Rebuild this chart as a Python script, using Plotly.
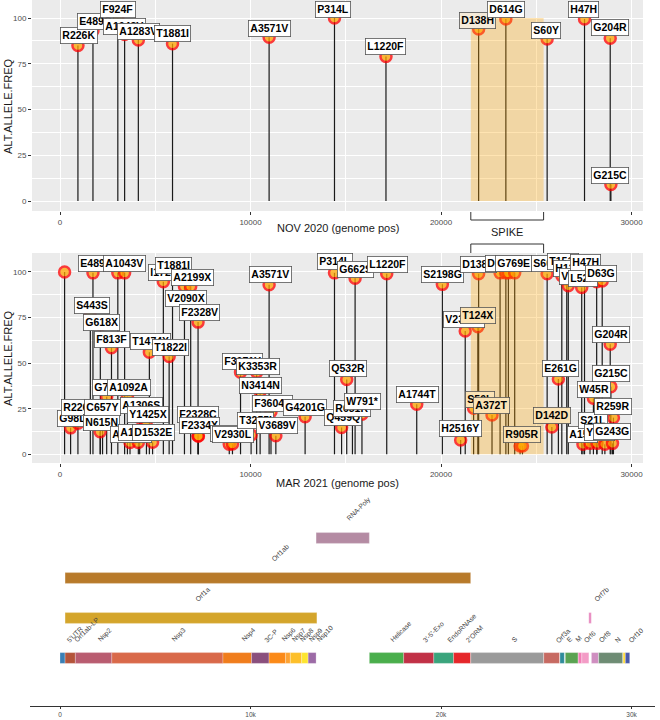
import plotly.graph_objects as go

# ---------------- data ----------------
spike_start, spike_end = 21563, 25384

nov_mut = ["R226K", "E489G", "F924F", "A1043V", "A1283V", "T1881I", "A3571V", "P314L",
           "L1220F", "D138H", "D614G", "S60Y", "H47H", "G204R", "G215C"]
nov_pos = [941, 1730, 3035, 3392, 4112, 5906, 10976, 14408, 17110, 21974, 23403, 25570,
           27532, 28881, 28916]
nov_freq = [85, 93, 100, 91, 88, 86, 89.5, 100, 79, 94, 99.5, 88.5, 99.5, 89, 9]
# label placement (repel result) in data units
nov_lab_x = [997, 1865, 3060, 3385, 4110, 5915, 10990, 14350, 17110, 21940, 23390, 25525,
             27490, 28870, 28870]
nov_lab_y = [90.3, 98, 104.4, 95.6, 92.5, 91.3, 94, 104.4, 84.3, 98.9, 104.4, 93, 104.4,
             94.7, 14.2]

mar_mut = ["", "G98L", "R226K", "S443S", "E489G", "N615N", "G618X", "C657Y", "G727G",
           "F813F", "F924F", "A1043V", "A1092A", "A1137V", "A1283V", "A1306S", "Y1425X",
           "T1474X", "D1532E", "I1720X", "T1822I", "T1881I", "V2090X", "A2199X", "F2328V",
           "F2328C", "F2334X", "P2874S", "V2930L", "F3071Y", "T3255I", "K3353R", "N3414N",
           "A3571V", "F3604F", "V3689V", "G4201G", "P314L", "Q459Q", "Q532R", "R651R",
           "G662S", "W791*", "L1220F", "A1744T", "S2198G", "H2516Y", "V2375F", "S50L",
           "T124X", "D138H", "A372T", "", "D614G", "", "G769E", "", "R905R", "S60Y",
           "D142D", "E261G", "T151I", "H125Y", "V82A", "L52F", "A15S", "H47H", "S21L",
           "W45R", "", "Y73C", "D63G", "", "G204R", "G215C", "G243G", "R259R"]
mar_pos = [241, 557, 941, 1592, 1730, 2108, 2117, 2234, 2450, 2702, 3035, 3392, 3539, 3675,
           4112, 4181, 4538, 4691, 4859, 5425, 5729, 5906, 6533, 6860, 7247, 7248, 7266,
           8885, 9053, 9476, 10030, 10322, 10505, 10976, 11075, 11330, 12866, 14408, 14780,
           15050, 15350, 15490, 15850, 17150, 18725, 20070, 21030, 21270, 21710, 21932,
           21974, 22676, 23100, 23403, 23535, 23867, 24150, 24275, 25570, 25816, 26160,
           26340, 26600, 26680, 27385, 27450, 27532, 27820, 28000, 28170, 28190, 28460,
           28600, 28881, 28916, 29000, 29050]
mar_freq = [100, 14.5, 17, 76, 99.5, 12.4, 71, 22, 31.6, 58.5, 99.5, 99.5, 31.6, 6.5, 6.5,
            20, 16, 56, 6.6, 94.7, 53.6, 99.5, 92, 92, 72.5, 10, 10, 5.5, 5.6, 45, 10.6, 45,
            34.4, 93, 23.4, 10.2, 20.6, 99.5, 14.7, 41, 22, 96.5, 22, 99, 27.4, 93.2, 7.9,
            67.6, 25.2, 70, 99, 21.6, 99.5, 99.5, 99.5, 99.5, 4.6, 4.6, 99, 15, 41.3, 98,
            96, 92.5, 91.5, 5.5, 99, 6, 30.7, 94.6, 6, 95, 5.5, 60.3, 37, 6, 20.1]
# label placement (repel result) in data units; None = label dropped
mar_lab_x = [None, 680, 1050, 1680, 1890, 2152, 2188, 2240, 2670, 2713, None, 3376, 3622,
             3730, 4150, 4287, 4619, 4760, 4898, 5620, 5774, 5950, 6597, 6965, 7296, 7260,
             7296, 8950, 9100, 9570, 10236, 10376, 10550, 11023, 11163, 11373, 12860, 14435,
             14870, 15133, 15345, 15485, 15870, 17165, 18756, 20067, 21030, 21206, 22050,
             21958, 21958, 22660, None, 23300, None, 23830, None, 24266, 25510, 25810, 26280,
             26400, 26870, 27030, 27450, 27450, 27557, 27995, 28013, None, 28300, 28414,
             None, 28920, 28905, 28990, 29045]
mar_lab_y = [None, 19.7, 25.6, 81.5, 104.8, 17.6, 72.2, 25.6, 36.5, 63.2, None, 104.8, 36.5,
             11, 12, 27, 21.9, 61.8, 12, 99.6, 58.5, 103.8, 85.2, 97.1, 77.9, 21.6, 16, 11.5,
             10.6, 50.8, 18.3, 48.4, 38, 98.4, 28, 16, 25.8, 106, 20.1, 47.2, 25.2, 101.5,
             29.2, 104.2, 32.9, 98.7, 13.9, 73.7, 30.3, 76, 104.2, 27, None, 104.8, None,
             104.8, None, 11, 104.8, 21.2, 46.8, 105.5, 101.7, 97.4, 96.5, 11, 105.3, 18.8,
             35.8, None, 12, 99.3, None, 65.8, 44.4, 12.4, 26.1]

# genome annotation
seg_names = ["5'UTR", "Orf1ab-LP", "Nsp2", "Nsp3", "Nsp4", "3C-P", "Nsp6", "Nsp7", "Nsp8",
             "Nsp9", "Nsp10", "Helicase", "3'-5'-Exo", "EndoRNAse", "2'ORM", "S", "Orf3a",
             "E", "M", "Orf6", "Orf7a", "Orf8", "N", "Orf10", "3'UTR"]
seg_start = [1, 266, 806, 2720, 8555, 10055, 10973, 11843, 12092, 12686, 13025, 16237,
             18040, 19621, 20659, 21563, 25393, 26245, 26523, 27202, 27394, 27894, 28274,
             29558, 29675]
seg_end = [265, 805, 2719, 8554, 10054, 10972, 11842, 12091, 12685, 13024, 13441, 18039,
           19620, 20658, 21552, 25384, 26220, 26472, 27191, 27387, 27759, 28259, 29533,
           29674, 29903]
seg_labelled = [True] * 20 + [False, True, True, True, False]

orf_names = ["Orf1a", "Orf1ab", "RNA-Poly", "Orf7b"]
orf_start = [266, 266, 13442, 27756]
orf_end = [13483, 21555, 16236, 27887]
orf_track = [1, 2, 3, 1]

# ---------------- styles ----------------
seg_colors = ["#3a7fb5", "#b4543a", "#b95c70", "#d9694a", "#f07d1c", "#8a4f7d", "#fb8a18",
              "#fda232", "#fdbf2a", "#fde530", "#9c6ba6", "#4aae4c", "#c13146", "#3aa47c",
              "#e5272a", "#9a9a9a", "#c76a62", "#2f8c9a", "#5aa352", "#f27db6", "#f39cc6",
              "#cf8ec0", "#6e8c74", "#ffd92f", "#4a5aaa"]
orf_colors = ["#d4a52b", "#b87a2a", "#b48ba3", "#e88ac0"]

W, H = 660, 720
FONT = "Liberation Sans"
px_l, px_r = 32, 643
top_y = (0, 211)
mid_y = (253, 463)
top_range_y = [-5.46, 109.84]
mid_range_y = [-4.77, 110.4]
x_range = [(px_l - 60) * 52.49, (px_r - 60) * 52.49]


def pdom(y0, y1):
    return [1 - y1 / H, 1 - y0 / H]


fig = go.Figure()


def lollipop(pos, freq, xa, ya):
    lx, ly = [], []
    for p, f in zip(pos, freq):
        lx += [p, p, None]
        ly += [0, f, None]
    fig.add_trace(go.Scatter(x=lx, y=ly, mode="lines", xaxis=xa, yaxis=ya,
                             line=dict(color="#1a1a1a", width=1.2), hoverinfo="skip",
                             showlegend=False))
    fig.add_trace(go.Scatter(x=pos, y=freq, mode="markers", xaxis=xa, yaxis=ya,
                             marker=dict(size=11, color="orange", opacity=0.75,
                                         line=dict(color="red", width=2.5)),
                             showlegend=False))


lollipop(nov_pos, nov_freq, "x", "y")
lollipop(mar_pos, mar_freq, "x2", "y2")

# genome strip and ORF bars
for n, s, e, c in zip(seg_names, seg_start, seg_end, seg_colors):
    fig.add_trace(go.Bar(x=[e - s + 1], base=[s], y=[0], orientation="h", width=0.27,
                         marker=dict(color=c, line=dict(color="rgba(255,255,255,0.5)", width=0.5)),
                         xaxis="x3", yaxis="y3", showlegend=False, name=n))
for n, s, e, t, c in zip(orf_names, orf_start, orf_end, orf_track, orf_colors):
    fig.add_trace(go.Bar(x=[e - s + 1], base=[s], y=[t], orientation="h", width=0.27,
                         marker=dict(color=c, line=dict(color="rgba(255,255,255,0.5)", width=0.5)),
                         xaxis="x3", yaxis="y3", showlegend=False, name=n))

shapes = []
for xa, ya, yr in (("x", "y", top_range_y), ("x2", "y2", mid_range_y)):
    shapes.append(dict(type="rect", xref=xa, yref=ya, x0=x_range[0], x1=x_range[1],
                       y0=yr[0], y1=yr[1], fillcolor="#EBEBEB", line=dict(width=0),
                       layer="below"))
    shapes.append(dict(type="rect", xref=xa, yref=ya, x0=spike_start, x1=spike_end,
                       y0=0, y1=100, fillcolor="rgba(255,165,0,0.3)", line=dict(width=0),
                       layer="above"))
# spike brackets
bk = dict(color="#333333", width=1)
y_a, y_b = 1 - 212 / H, 1 - 220 / H
y_c, y_d = 1 - 244 / H, 1 - 253 / H
shapes += [
    dict(type="line", xref="x", yref="paper", x0=spike_start, x1=spike_start, y0=y_a, y1=y_b, line=bk),
    dict(type="line", xref="x", yref="paper", x0=spike_end, x1=spike_end, y0=y_a, y1=y_b, line=bk),
    dict(type="line", xref="x", yref="paper", x0=spike_start, x1=spike_end, y0=y_b, y1=y_b, line=bk),
    dict(type="line", xref="x", yref="paper", x0=spike_start, x1=spike_end, y0=y_c, y1=y_c, line=bk),
    dict(type="line", xref="x", yref="paper", x0=spike_start, x1=spike_start, y0=y_c, y1=y_d, line=bk),
    dict(type="line", xref="x", yref="paper", x0=spike_end, x1=spike_end, y0=y_c, y1=y_d, line=bk),
]

ann = []
lab_font = dict(family=FONT, size=10.5, color="black")
tint_mid = {"T124X", "S50L", "A372T", "R905R", "D142D"}
for n, lx, ly in zip(nov_mut, nov_lab_x, nov_lab_y):
    ann.append(dict(x=lx, y=ly, xref="x", yref="y", text="<b>%s</b>" % n, showarrow=False,
                    font=lab_font, bgcolor="#F5EBDA" if n == "D138H" else "white",
                    bordercolor="#555", borderwidth=0.8, borderpad=1.5))
for n, lx, ly in zip(mar_mut, mar_lab_x, mar_lab_y):
    if lx is None or not n:
        continue
    ann.append(dict(x=lx, y=ly, xref="x2", yref="y2", text="<b>%s</b>" % n, showarrow=False,
                    font=lab_font, bgcolor="#FBE3B5" if n in tint_mid else "white",
                    bordercolor="#555", borderwidth=0.8, borderpad=1.5))

ttl = dict(family=FONT, size=11, color="#1a1a1a")
mid = dict(xanchor="center", yanchor="middle", showarrow=False, font=ttl)
ann += [
    dict(x=(px_l + px_r) / 2 / W, y=1 - 228 / H, xref="paper", yref="paper",
         text="NOV 2020 (genome pos)", **mid),
    dict(x=(px_l + px_r) / 2 / W, y=1 - 483 / H, xref="paper", yref="paper",
         text="MAR 2021 (genome pos)", **mid),
    dict(x=8 / W, y=1 - 106 / H, xref="paper", yref="paper", text="ALT.ALLELE.FREQ",
         textangle=-90, **mid),
    dict(x=8 / W, y=1 - 358 / H, xref="paper", yref="paper", text="ALT.ALLELE.FREQ",
         textangle=-90, **mid),
    dict(x=(spike_start + spike_end) / 2, y=1 - 232 / H, xref="x", yref="paper",
         text="SPIKE", **mid),
]
gfont = dict(family=FONT, size=6.8, color="#444444")
for n, s, e, show in zip(seg_names, seg_start, seg_end, seg_labelled):
    if show:
        ann.append(dict(x=(s + e) / 2, y=0.29, xref="x3", yref="y3", text=n, textangle=-45,
                        xanchor="left", yanchor="bottom", showarrow=False, font=gfont))
for n, s, e, t in zip(orf_names, orf_start, orf_end, orf_track):
    ann.append(dict(x=(s + e) / 2, y=t + 0.31, xref="x3", yref="y3", text=n, textangle=-45,
                    xanchor="left", yanchor="bottom", showarrow=False, font=gfont))

tickfont = dict(family=FONT, size=8, color="#4D4D4D")
xcommon = dict(range=x_range, domain=[px_l / W, px_r / W], tick0=0, dtick=10000,
               tickformat="d", showgrid=True, gridcolor="white", gridwidth=1.1,
               minor=dict(dtick=5000, tick0=0, showgrid=True, gridcolor="white", gridwidth=0.5),
               ticks="outside", ticklen=3, tickcolor="#333333", tickfont=tickfont,
               zeroline=False, showline=False, automargin=False, fixedrange=True)
ycommon = dict(tick0=0, dtick=25, showgrid=True, gridcolor="white", gridwidth=1.1,
               minor=dict(dtick=12.5, tick0=0, showgrid=True, gridcolor="white", gridwidth=0.5),
               ticks="outside", ticklen=3, tickcolor="#333333", tickfont=tickfont,
               zeroline=False, showline=False, automargin=False, fixedrange=True)

b_l, b_r = 30, 655
axis_py = 706
row_py0, row_px = 658, 40
fig.update_layout(
    width=W, height=H, margin=dict(l=0, r=0, t=0, b=0),
    paper_bgcolor="white", plot_bgcolor="white", barmode="overlay",
    showlegend=False, template="none",
    xaxis=dict(**xcommon, anchor="y"),
    yaxis=dict(**ycommon, anchor="x", range=top_range_y, domain=pdom(*top_y)),
    xaxis2=dict(**xcommon, anchor="y2"),
    yaxis2=dict(**ycommon, anchor="x2", range=mid_range_y, domain=pdom(*mid_y)),
    xaxis3=dict(anchor="y3", domain=[b_l / W, b_r / W],
                range=[(b_l - 60) * 52.49, (b_r - 60) * 52.49],
                tickvals=[0, 10000, 20000, 30000], ticktext=["0", "10k", "20k", "30k"],
                showline=True, linecolor="#333333", linewidth=1, ticks="outside",
                ticklen=2, tickcolor="#333333", tickfont=dict(family=FONT, size=6.5, color="#4D4D4D"),
                showgrid=False, zeroline=False, automargin=False, fixedrange=True),
    yaxis3=dict(anchor="x3", domain=[(H - axis_py) / H, (H - 500) / H],
                range=[(row_py0 - axis_py) / row_px, (row_py0 - 500) / row_px],
                visible=False, showgrid=False, zeroline=False, fixedrange=True),
    shapes=shapes, annotations=ann,
)

fig.write_html("out.html", config={"displayModeBar": False},
               post_script="document.body.style.margin='0';document.body.style.overflow='hidden';")
